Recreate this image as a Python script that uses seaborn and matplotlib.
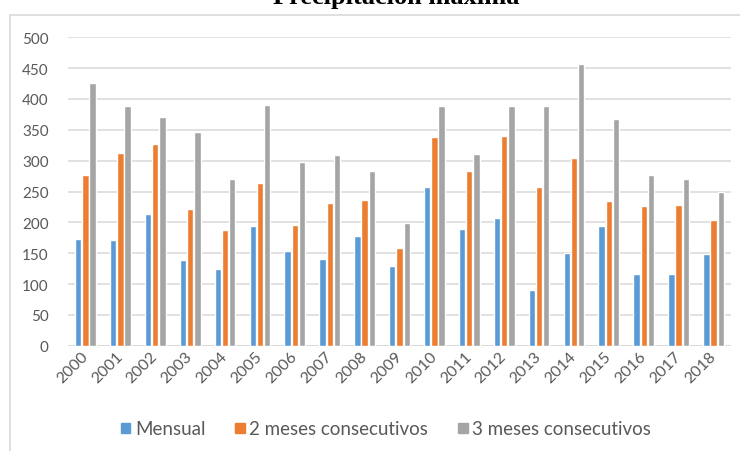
import numpy as np
import pandas as pd
import matplotlib
matplotlib.use("Agg")
import matplotlib.pyplot as plt
from matplotlib.lines import Line2D
import seaborn as sns

years = [str(y) for y in range(2000, 2019)]
mensual = [173, 171, 213, 139, 125, 194, 154, 141, 178, 130, 258, 189, 207, 91, 150, 194, 116, 117, 148]
dos_meses = [276, 312, 327, 221, 188, 264, 196, 231, 236, 159, 338, 283, 340, 258, 304, 234, 226, 228, 203]
tres_meses = [426, 389, 370, 346, 271, 391, 298, 309, 283, 199, 389, 311, 389, 389, 457, 367, 276, 271, 250]
series_names = ["Mensual", "2 meses consecutivos", "3 meses consecutivos"]
colors = ["#5B9BD5", "#ED7D31", "#A5A5A5"]
yticks = [0, 50, 100, 150, 200, 250, 300, 350, 400, 450, 500]

df = pd.DataFrame({
    "Año": years * 3,
    "Serie": [series_names[0]] * len(years) + [series_names[1]] * len(years) + [series_names[2]] * len(years),
    "Valor": mensual + dos_meses + tres_meses,
})

sns.set_style("white")
plt.rcParams["font.family"] = ["Lato", "DejaVu Sans"]

W, H = 740, 452
fig = plt.figure(figsize=(W / 100, H / 100), dpi=100)
ax = fig.add_axes([68 / W, 1 - 346.7 / H, (731 - 68) / W, (346.7 - 38.3) / H])

sns.barplot(data=df, x="Año", y="Valor", hue="Serie", palette=colors,
            width=0.62, gap=0.12, ax=ax, legend=False, saturation=1)

ax.set_ylim(0, 500)
ax.set_xlim(-0.5, len(years) - 0.5)
ax.set_yticks(yticks)
ax.yaxis.grid(True, color="#D9D9D9", linewidth=1.1)
ax.set_axisbelow(True)
for s in ax.spines.values():
    s.set_visible(False)
ax.axhline(0, color="#D9D9D9", linewidth=1.1, zorder=0.5)
ax.set_xlabel("")
ax.set_ylabel("")
ax.tick_params(axis="both", length=0, colors="#595959", labelsize=11)
ax.tick_params(axis="y", pad=14)
for lbl in ax.get_xticklabels():
    lbl.set_rotation(45)
    lbl.set_ha("right")
    lbl.set_va("center")
    lbl.set_rotation_mode("anchor")
    lbl.set_fontsize(11.5)
ax.tick_params(axis="x", pad=6)

handles = [plt.Rectangle((0, 0), 1, 1, color=c) for c in colors]
fig.legend(handles, series_names, loc="center", ncol=3,
           bbox_to_anchor=(386 / W, 1 - 430 / H), frameon=False,
           handlelength=0.5, handleheight=0.5, handletextpad=0.25,
           columnspacing=1.6, fontsize=13.5, labelcolor="#595959")

# chart frame (top and left edges)
fig.add_artist(Line2D([9.5 / W, 1.0], [1 - 15.5 / H] * 2, color="#D9D9D9", linewidth=1.2))
fig.add_artist(Line2D([9.5 / W] * 2, [0, 1 - 15.5 / H], color="#D9D9D9", linewidth=1.2))

# title, mostly above the top edge
fig.text(396 / W, 1 - 4 / H, "Precipitación máxima", ha="center", va="baseline",
         fontsize=19, fontweight="bold", family="Liberation Serif", color="black")

fig.savefig("out.png", dpi=100)
